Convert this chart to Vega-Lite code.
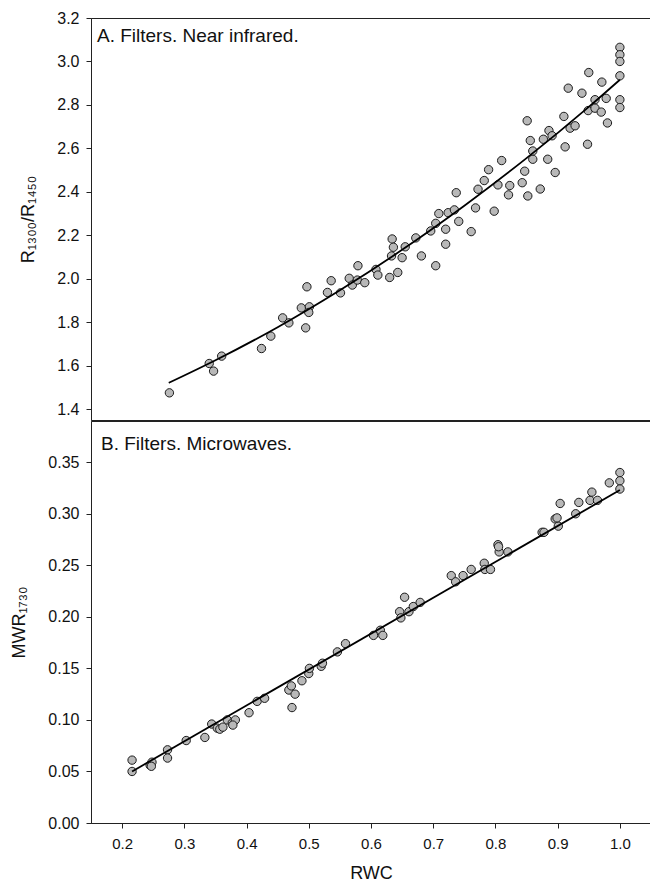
{
  "$schema": "https://vega.github.io/schema/vega-lite/v6.json",
  "padding": {"left": 10, "top": 9, "right": 0, "bottom": 0},
  "background": "white",
  "config": {
    "view": {"stroke": "#222", "strokeWidth": 1},
    "font": "Liberation Sans",
    "axis": {
      "grid": false,
      "domainColor": "#222",
      "tickColor": "#222",
      "tickSize": 5,
      "labelFont": "Liberation Sans",
      "labelFontSize": 15,
      "labelColor": "#111",
      "labelPadding": 7,
      "titleFont": "Liberation Sans",
      "titleFontSize": 18,
      "titleFontWeight": "normal",
      "titleColor": "#111"
    },
    "axisY": {"labelFontSize": 16}
  },
  "datasets": {
    "nir": [
      {"rwc":0.276,"r":1.475},{"rwc":0.340,"r":1.610},{"rwc":0.347,"r":1.575},{"rwc":0.360,"r":1.644},{"rwc":0.424,"r":1.679},{"rwc":0.439,"r":1.736},{"rwc":0.458,"r":1.820},{"rwc":0.468,"r":1.797},{"rwc":0.495,"r":1.774},{"rwc":0.488,"r":1.866},{"rwc":0.501,"r":1.871},{"rwc":0.500,"r":1.845},{"rwc":0.497,"r":1.963},{"rwc":0.530,"r":1.937},{"rwc":0.536,"r":1.991},{"rwc":0.551,"r":1.935},{"rwc":0.565,"r":2.002},{"rwc":0.570,"r":1.971},{"rwc":0.579,"r":2.060},{"rwc":0.578,"r":1.994},{"rwc":0.590,"r":1.982},{"rwc":0.608,"r":2.043},{"rwc":0.611,"r":2.017},{"rwc":0.630,"r":2.006},{"rwc":0.643,"r":2.029},{"rwc":0.634,"r":2.183},{"rwc":0.636,"r":2.145},{"rwc":0.633,"r":2.105},{"rwc":0.650,"r":2.097},{"rwc":0.655,"r":2.147},{"rwc":0.672,"r":2.188},{"rwc":0.681,"r":2.105},{"rwc":0.704,"r":2.060},{"rwc":0.696,"r":2.220},{"rwc":0.704,"r":2.255},{"rwc":0.709,"r":2.300},{"rwc":0.720,"r":2.228},{"rwc":0.720,"r":2.159},{"rwc":0.724,"r":2.304},{"rwc":0.734,"r":2.317},{"rwc":0.741,"r":2.264},{"rwc":0.737,"r":2.396},{"rwc":0.761,"r":2.217},{"rwc":0.768,"r":2.326},{"rwc":0.772,"r":2.412},{"rwc":0.782,"r":2.452},{"rwc":0.789,"r":2.502},{"rwc":0.798,"r":2.311},{"rwc":0.804,"r":2.432},{"rwc":0.810,"r":2.544},{"rwc":0.821,"r":2.386},{"rwc":0.823,"r":2.429},{"rwc":0.843,"r":2.442},{"rwc":0.847,"r":2.495},{"rwc":0.852,"r":2.381},{"rwc":0.860,"r":2.550},{"rwc":0.860,"r":2.588},{"rwc":0.856,"r":2.636},{"rwc":0.851,"r":2.727},{"rwc":0.872,"r":2.413},{"rwc":0.877,"r":2.642},{"rwc":0.884,"r":2.550},{"rwc":0.886,"r":2.682},{"rwc":0.891,"r":2.658},{"rwc":0.896,"r":2.489},{"rwc":0.910,"r":2.747},{"rwc":0.912,"r":2.607},{"rwc":0.917,"r":2.877},{"rwc":0.920,"r":2.693},{"rwc":0.928,"r":2.704},{"rwc":0.939,"r":2.854},{"rwc":0.948,"r":2.619},{"rwc":0.949,"r":2.774},{"rwc":0.950,"r":2.949},{"rwc":0.960,"r":2.824},{"rwc":0.960,"r":2.785},{"rwc":0.970,"r":2.767},{"rwc":0.971,"r":2.905},{"rwc":0.978,"r":2.830},{"rwc":0.980,"r":2.717},{"rwc":1.0,"r":3.065},{"rwc":1.0,"r":3.031},{"rwc":1.0,"r":3.000},{"rwc":1.0,"r":2.934},{"rwc":1.0,"r":2.824},{"rwc":1.0,"r":2.788}
    ],
    "nirfit": [
      {"rwc":0.275,"r":1.521},{"rwc":0.35,"r":1.625},{"rwc":0.45,"r":1.777},{"rwc":0.55,"r":1.947},{"rwc":0.65,"r":2.133},{"rwc":0.75,"r":2.336},{"rwc":0.85,"r":2.555},{"rwc":0.95,"r":2.791},{"rwc":1.0,"r":2.916}
    ],
    "mw": [
      {"rwc":0.216,"m":0.061},{"rwc":0.216,"m":0.050},{"rwc":0.245,"m":0.056},{"rwc":0.248,"m":0.059},{"rwc":0.247,"m":0.055},{"rwc":0.273,"m":0.071},{"rwc":0.273,"m":0.063},{"rwc":0.303,"m":0.080},{"rwc":0.333,"m":0.083},{"rwc":0.344,"m":0.096},{"rwc":0.353,"m":0.092},{"rwc":0.357,"m":0.091},{"rwc":0.362,"m":0.093},{"rwc":0.369,"m":0.100},{"rwc":0.377,"m":0.097},{"rwc":0.382,"m":0.100},{"rwc":0.378,"m":0.095},{"rwc":0.404,"m":0.107},{"rwc":0.417,"m":0.118},{"rwc":0.429,"m":0.121},{"rwc":0.468,"m":0.129},{"rwc":0.478,"m":0.125},{"rwc":0.473,"m":0.112},{"rwc":0.472,"m":0.133},{"rwc":0.489,"m":0.138},{"rwc":0.500,"m":0.145},{"rwc":0.501,"m":0.150},{"rwc":0.520,"m":0.152},{"rwc":0.522,"m":0.155},{"rwc":0.546,"m":0.166},{"rwc":0.559,"m":0.174},{"rwc":0.604,"m":0.182},{"rwc":0.615,"m":0.187},{"rwc":0.619,"m":0.182},{"rwc":0.646,"m":0.205},{"rwc":0.648,"m":0.199},{"rwc":0.654,"m":0.219},{"rwc":0.661,"m":0.205},{"rwc":0.668,"m":0.210},{"rwc":0.679,"m":0.214},{"rwc":0.729,"m":0.240},{"rwc":0.736,"m":0.234},{"rwc":0.748,"m":0.240},{"rwc":0.761,"m":0.246},{"rwc":0.782,"m":0.252},{"rwc":0.783,"m":0.246},{"rwc":0.792,"m":0.246},{"rwc":0.804,"m":0.270},{"rwc":0.806,"m":0.263},{"rwc":0.805,"m":0.268},{"rwc":0.820,"m":0.263},{"rwc":0.875,"m":0.282},{"rwc":0.878,"m":0.282},{"rwc":0.896,"m":0.295},{"rwc":0.901,"m":0.288},{"rwc":0.899,"m":0.296},{"rwc":0.904,"m":0.310},{"rwc":0.929,"m":0.300},{"rwc":0.934,"m":0.311},{"rwc":0.952,"m":0.313},{"rwc":0.955,"m":0.321},{"rwc":0.964,"m":0.313},{"rwc":0.983,"m":0.330},{"rwc":1.0,"m":0.340},{"rwc":1.0,"m":0.332},{"rwc":1.0,"m":0.324}
    ],
    "mwfit": [
      {"rwc":0.216,"m":0.050},{"rwc":1.0,"m":0.323}
    ]
  },
  "spacing": -5,
  "vconcat": [
    {
      "width": 560,
      "height": 402,
      "title": {"text": "A. Filters. Near infrared.", "anchor": "start", "frame": "group", "orient": "top", "baseline": "alphabetic", "offset": 0, "dx": 6, "dy": 51, "fontSize": 19, "fontWeight": "normal", "font": "Liberation Sans", "color": "#111"},
      "layer": [
        {
          "data": {"name": "nir"},
          "mark": {"type": "point", "shape": "circle", "filled": true, "size": 70, "fill": "#b8b8b8", "stroke": "#1a1a1a", "strokeWidth": 1, "opacity": 1},
          "encoding": {
            "x": {"field": "rwc", "type": "quantitative", "scale": {"domain": [0.15, 1.05], "nice": false, "zero": false}, "axis": null},
            "y": {"field": "r", "type": "quantitative", "scale": {"domain": [1.35, 3.2], "nice": false, "zero": false}, "axis": {"values": [1.4,1.6,1.8,2.0,2.2,2.4,2.6,2.8,3.0,3.2], "format": ".1f", "title": "R₁₃₀₀/R₁₄₅₀", "titlePadding": 19}}
          }
        },
        {
          "data": {"name": "nirfit"},
          "mark": {"type": "line", "color": "#000", "strokeWidth": 1.8, "interpolate": "monotone"},
          "encoding": {
            "x": {"field": "rwc", "type": "quantitative"},
            "y": {"field": "r", "type": "quantitative"}
          }
        }
      ]
    },
    {
      "width": 560,
      "height": 402,
      "title": {"text": "B. Filters. Microwaves.", "anchor": "start", "frame": "group", "orient": "top", "baseline": "alphabetic", "offset": 0, "dx": 10, "dy": 48, "fontSize": 19, "fontWeight": "normal", "font": "Liberation Sans", "color": "#111"},
      "layer": [
        {
          "data": {"name": "mw"},
          "mark": {"type": "point", "shape": "circle", "filled": true, "size": 70, "fill": "#b8b8b8", "stroke": "#1a1a1a", "strokeWidth": 1, "opacity": 1},
          "encoding": {
            "x": {"field": "rwc", "type": "quantitative", "scale": {"domain": [0.15, 1.05], "nice": false, "zero": false}, "axis": {"values": [0.2,0.3,0.4,0.5,0.6,0.7,0.8,0.9,1.0], "format": ".1f", "title": "RWC", "labelPadding": 8.5, "titlePadding": 13}},
            "y": {"field": "m", "type": "quantitative", "scale": {"domain": [0, 0.39], "nice": false, "zero": false}, "axis": {"values": [0,0.05,0.1,0.15,0.2,0.25,0.3,0.35], "format": ".2f", "title": "MWR₁₇₃₀", "titlePadding": 19}}
          }
        },
        {
          "data": {"name": "mwfit"},
          "mark": {"type": "line", "color": "#000", "strokeWidth": 1.8},
          "encoding": {
            "x": {"field": "rwc", "type": "quantitative"},
            "y": {"field": "m", "type": "quantitative"}
          }
        }
      ]
    }
  ]
}
